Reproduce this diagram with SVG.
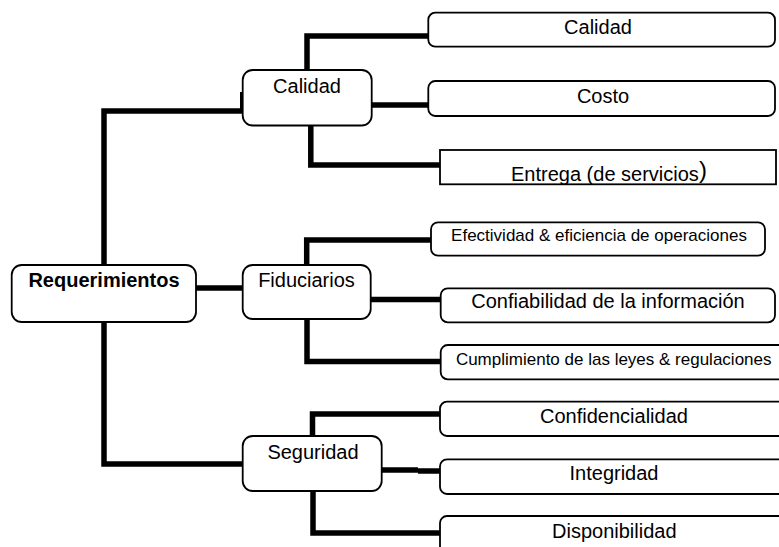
<svg xmlns="http://www.w3.org/2000/svg" width="779" height="547" viewBox="0 0 779 547">
<style>
.box{fill:#fff;stroke:#000;stroke-width:1.8}
.c{fill:none;stroke:#000;stroke-width:5.5;stroke-linejoin:miter;stroke-linecap:butt}
text{font-family:"Liberation Sans",Arial,sans-serif;fill:#000;font-size:20px}
.m{text-anchor:middle}
.s{font-size:17px}
.b{font-weight:bold}
</style>
<rect width="779" height="547" fill="#fff"/>
<g id="connectors">
<path class="c" d="M242.7 111 H104 V464 H242.7"/>
<path class="c" d="M196 288 H242.7"/>
<path d="M240 92 H243.3 V111 H240 Z" fill="#000"/>
<path class="c" d="M307 70 V36 H428.3"/>
<path class="c" d="M371.7 105 H428.3"/>
<path class="c" d="M310.8 125.5 V165 H440"/>
<path class="c" d="M306.7 265 V240 H431"/>
<path class="c" d="M370.7 299.5 H440.7"/>
<path class="c" d="M307 319 V361.5 H440.7"/>
<path class="c" d="M312.5 436 V414 H440"/>
<path class="c" d="M381.7 470 H418"/>
<path class="c" d="M418 471 H440"/>
<path class="c" d="M313 491 V533 H440"/>
</g>
<g id="requerimientos">
<rect class="box" x="11.7" y="265" width="184.3" height="57" rx="10"/>
<text class="m b" x="104" y="287">Requerimientos</text>
</g>
<g id="calidad">
<rect class="box" x="242.7" y="70" width="129" height="55.5" rx="10"/>
<text class="m" x="307" y="93.3">Calidad</text>
</g>
<g id="fiduciarios">
<rect class="box" x="242.7" y="265" width="128" height="54" rx="10"/>
<text class="m" x="306.5" y="287">Fiduciarios</text>
</g>
<g id="seguridad">
<rect class="box" x="242.7" y="436" width="139" height="55" rx="10"/>
<text class="m" x="313" y="459.3">Seguridad</text>
</g>
<g id="leaf-calidad">
<rect class="box" x="428.3" y="12.7" width="346.7" height="34" rx="7"/>
<text class="m" x="598" y="34.3">Calidad</text>
</g>
<g id="leaf-costo">
<rect class="box" x="428.3" y="81" width="346.7" height="35" rx="7"/>
<text class="m" x="603" y="102.7">Costo</text>
</g>
<g id="leaf-entrega">
<rect class="box" x="440" y="150" width="336" height="34.3"/>
<text x="511" y="181">Entrega (de servicios<tspan font-size="24" dy="-3">)</tspan></text>
</g>
<g id="leaf-efectividad">
<rect class="box" x="431" y="222.3" width="334" height="33.4" rx="7"/>
<text class="m s" x="599" y="241">Efectividad &amp; eficiencia de operaciones</text>
</g>
<g id="leaf-confiabilidad">
<rect class="box" x="440.7" y="288.3" width="334.3" height="34" rx="7"/>
<text class="m" x="608" y="308.3">Confiabilidad de la información</text>
</g>
<g id="leaf-cumplimiento">
<rect class="box" x="440.7" y="345" width="345" height="34.3" rx="7"/>
<text class="m s" x="613.7" y="365">Cumplimiento de las leyes &amp; regulaciones</text>
</g>
<g id="leaf-confidencialidad">
<rect class="box" x="440" y="401.7" width="346" height="34.3" rx="7"/>
<text class="m" x="614" y="422.7">Confidencialidad</text>
</g>
<g id="leaf-integridad">
<rect class="box" x="440" y="459.3" width="346" height="34.7" rx="7"/>
<text class="m" x="614" y="480">Integridad</text>
</g>
<g id="leaf-disponibilidad">
<rect class="box" x="440" y="516" width="346" height="44" rx="7"/>
<text class="m" x="614.3" y="537.7">Disponibilidad</text>
</g>
</svg>
